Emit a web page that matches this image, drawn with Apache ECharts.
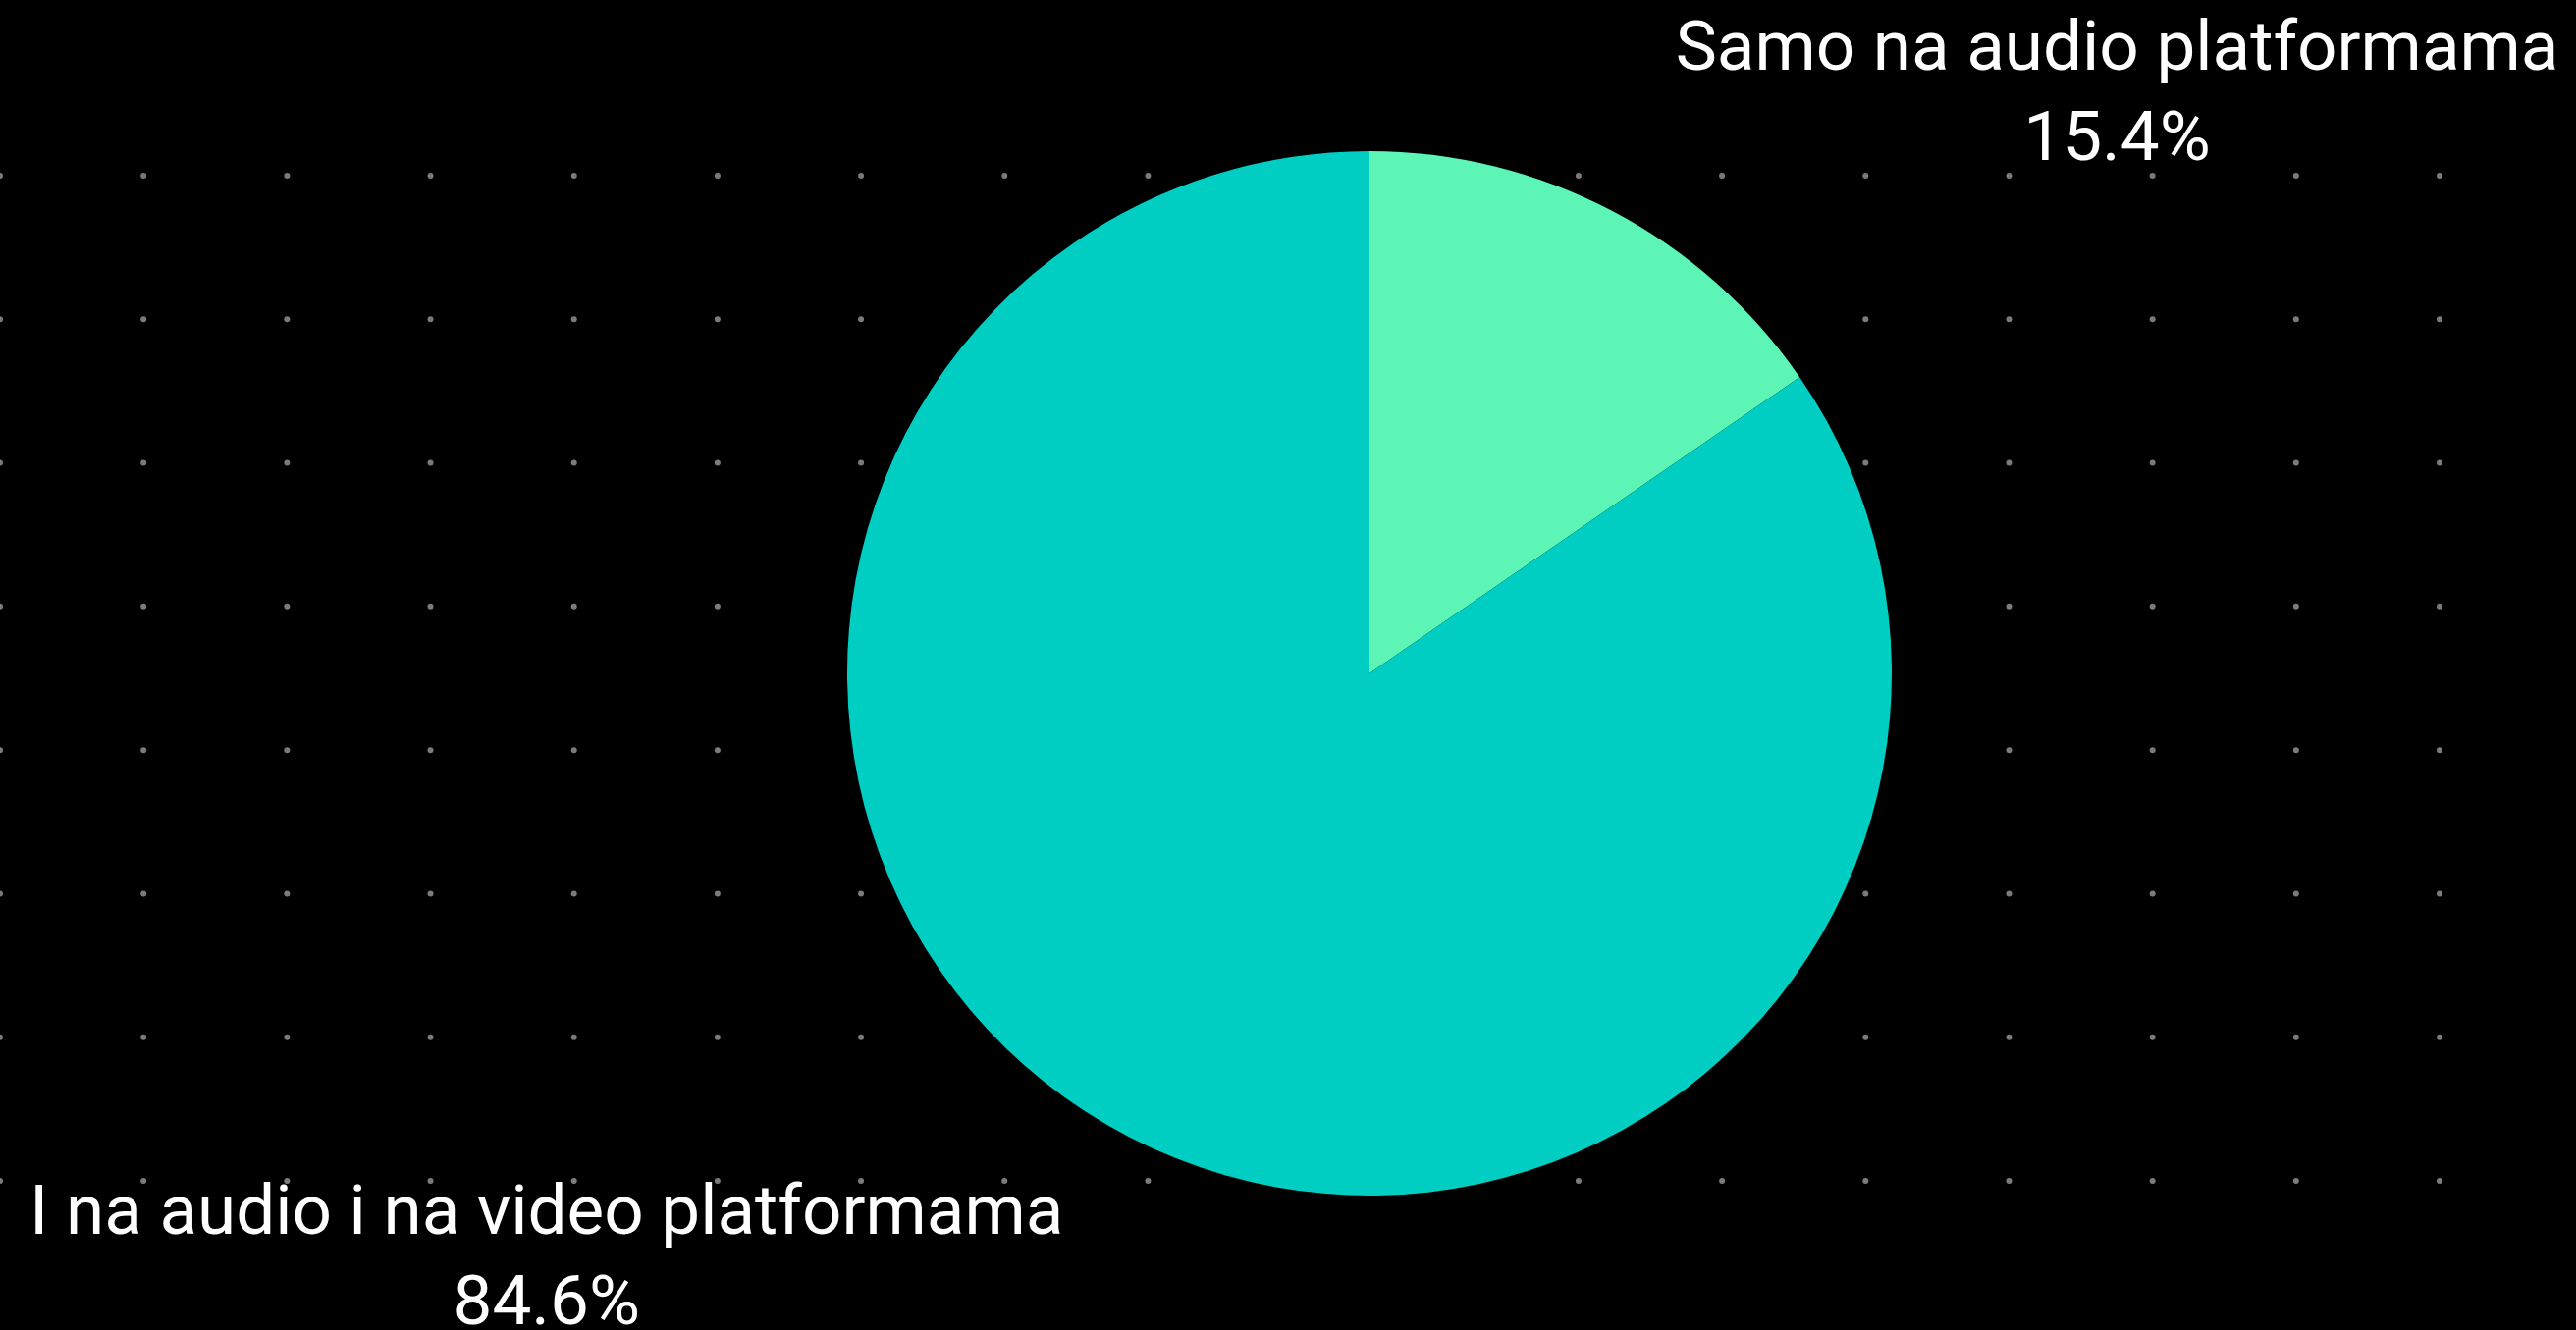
<!DOCTYPE html>
<html>
<head>
<meta charset="utf-8">
<script src="https://cdn.jsdelivr.net/npm/echarts@6/dist/echarts.min.js"></script>
<style>
  html, body { margin: 0; padding: 0; background: #000; }
  #chart { width: 2624px; height: 1355px; }
</style>
</head>
<body>
<div id="chart"></div>
<script>
  // podaci
  var categories = ['Samo na audio platformama', 'I na audio i na video platformama'];
  var shares = [15.4, 84.6];
  var sliceColors = ['#5df5b5', '#00cec2'];

  // pozadinska mreža točaka
  var dotCols = [0, 1, 2, 3, 4, 5, 6, 7, 8, 9, 10, 11, 12, 13, 14, 15, 16, 17];
  var dotRows = [0, 1, 2, 3, 4, 5, 6, 7];

  var dots = [];
  dotCols.forEach(function (c) {
    dotRows.forEach(function (r) { dots.push([c, r]); });
  });

  var pieData = categories.map(function (name, i) {
    return { name: name, value: shares[i], itemStyle: { color: sliceColors[i] } };
  });

  var myChart = echarts.init(document.getElementById('chart'));

  var option = {
    backgroundColor: '#000',
    animation: false,
    grid: { left: -2, right: 139, top: 179, bottom: 152 },
    xAxis: { type: 'value', min: 0, max: 17, show: false },
    yAxis: { type: 'value', min: 0, max: 7, inverse: true, show: false },
    series: [
      {
        type: 'scatter',
        data: dots,
        symbolSize: 6,
        itemStyle: { color: '#9a9a9a' },
        silent: true,
        z: 1
      },
      {
        type: 'pie',
        center: [1395, 686],
        radius: 532,
        startAngle: 90,
        clockwise: true,
        avoidLabelOverlap: false,
        percentPrecision: 1,
        data: pieData,
        z: 2,
        label: {
          show: true,
          position: 'outside',
          formatter: '{b}\n{d}%',
          color: '#fff',
          fontFamily: 'Roboto',
          fontSize: 71,
          lineHeight: 92,
          distanceToLabelLine: 0
        },
        labelLine: { show: false, length: 138, length2: 0 },
        // centriraj retke oznake
        labelLayout: function (params) {
          var r = params.labelRect;
          return { x: r.x + r.width / 2, dy: 6, align: 'center' };
        },
        emphasis: { disabled: true }
      }
    ]
  };

  myChart.setOption(option);
  window.onresize = () => myChart.resize()
</script>
</body>
</html>
